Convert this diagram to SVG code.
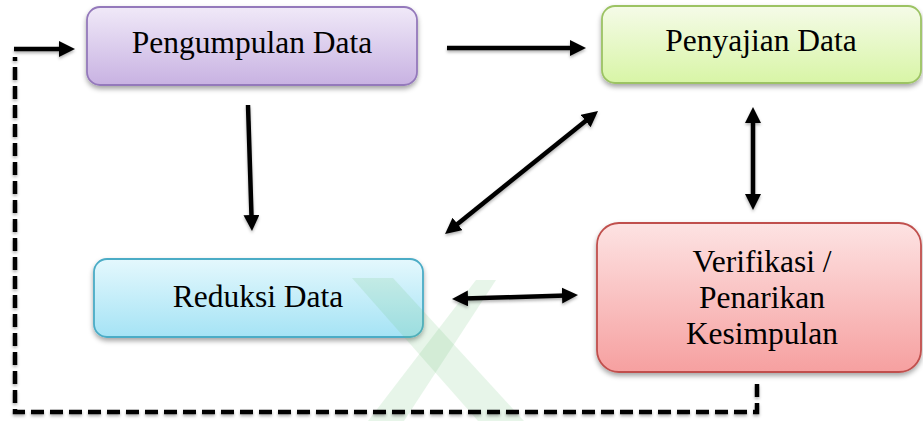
<svg xmlns="http://www.w3.org/2000/svg" width="923" height="421" viewBox="0 0 923 421">
  <style>
    .box { stroke-width: 1.8; filter: url(#shadow); }
    .lbl { font-family: "Liberation Serif", "Times New Roman", serif; font-size: 31.5px; fill: #000; text-anchor: middle; }
    .arr { fill: none; stroke: #000; stroke-width: 4.5; }
    .dash { fill: none; stroke: #000; stroke-width: 4.5; stroke-dasharray: 13 6; }
    .wm { fill: #6cbf78; opacity: 0.16; }
  </style>
  <defs>
    <filter id="shadow" x="-10%" y="-10%" width="120%" height="130%">
      <feDropShadow dx="0" dy="3" stdDeviation="2.5" flood-color="#000" flood-opacity="0.35"/>
    </filter>
    <filter id="ashadow" filterUnits="userSpaceOnUse" x="0" y="0" width="923" height="421">
      <feDropShadow dx="0" dy="2" stdDeviation="1.5" flood-color="#000" flood-opacity="0.3"/>
    </filter>
    <linearGradient id="gPurple" x1="0" y1="0" x2="0" y2="1">
      <stop offset="0" stop-color="#f0e9f8"/>
      <stop offset="1" stop-color="#c8b2e2"/>
    </linearGradient>
    <linearGradient id="gGreen" x1="0" y1="0" x2="0" y2="1">
      <stop offset="0" stop-color="#f5fbe8"/>
      <stop offset="1" stop-color="#d8f5a6"/>
    </linearGradient>
    <linearGradient id="gBlue" x1="0" y1="0" x2="0" y2="1">
      <stop offset="0" stop-color="#e4f8fd"/>
      <stop offset="1" stop-color="#a5e3f5"/>
    </linearGradient>
    <linearGradient id="gRed" x1="0" y1="0" x2="0" y2="1">
      <stop offset="0" stop-color="#fde3e3"/>
      <stop offset="1" stop-color="#f6a0a0"/>
    </linearGradient>
    <marker id="head" viewBox="0 0 16 16" refX="4" refY="8" markerWidth="16" markerHeight="16" markerUnits="userSpaceOnUse" orient="auto-start-reverse">
      <path d="M0,0 L16,8 L0,16 z" fill="#000"/>
    </marker>
  </defs>

  <g id="pengumpulan">
    <rect class="box" x="87" y="7" width="330" height="78" rx="13" fill="url(#gPurple)" stroke="#9479bb"/>
    <text class="lbl" x="252" y="53">Pengumpulan Data</text>
  </g>

  <g id="penyajian">
    <rect class="box" x="602" y="6" width="319" height="77" rx="13" fill="url(#gGreen)" stroke="#9cc364"/>
    <text class="lbl" x="761" y="51">Penyajian Data</text>
  </g>

  <g id="reduksi">
    <rect class="box" x="94" y="259" width="329" height="78" rx="13" fill="url(#gBlue)" stroke="#4bacc6"/>
    <text class="lbl" x="258" y="307">Reduksi Data</text>
  </g>

  <g id="verifikasi">
    <rect class="box" x="597" y="223" width="324" height="149" rx="22" fill="url(#gRed)" stroke="#c0504d"/>
    <text class="lbl" x="762" y="272">Verifikasi /</text>
    <text class="lbl" x="762" y="308">Penarikan</text>
    <text class="lbl" x="762" y="344">Kesimpulan</text>
  </g>

  <g id="watermark">
    <polygon class="wm" points="352,278 393,278 524,421 478,421"/>
    <polygon class="wm" points="476,280 496,280 404,421 368,421"/>
  </g>

  <g id="connectors" filter="url(#ashadow)">
    <line class="arr" x1="447" y1="48" x2="574" y2="48" marker-end="url(#head)"/>
    <line class="arr" x1="14" y1="49" x2="63" y2="49" stroke-width="5" marker-end="url(#head)"/>
    <line class="arr" x1="248" y1="105" x2="251.6" y2="219" marker-end="url(#head)"/>
    <line class="arr" x1="454.4" y1="226.5" x2="588.7" y2="118.5" marker-start="url(#head)" marker-end="url(#head)"/>
    <line class="arr" x1="753" y1="119" x2="753" y2="198" marker-start="url(#head)" marker-end="url(#head)"/>
    <line class="arr" x1="464" y1="298.6" x2="566" y2="295.4" marker-start="url(#head)" marker-end="url(#head)"/>
    <path class="dash" d="M757,384 L757,412 L15,412 L15,57"/>
  </g>
</svg>
